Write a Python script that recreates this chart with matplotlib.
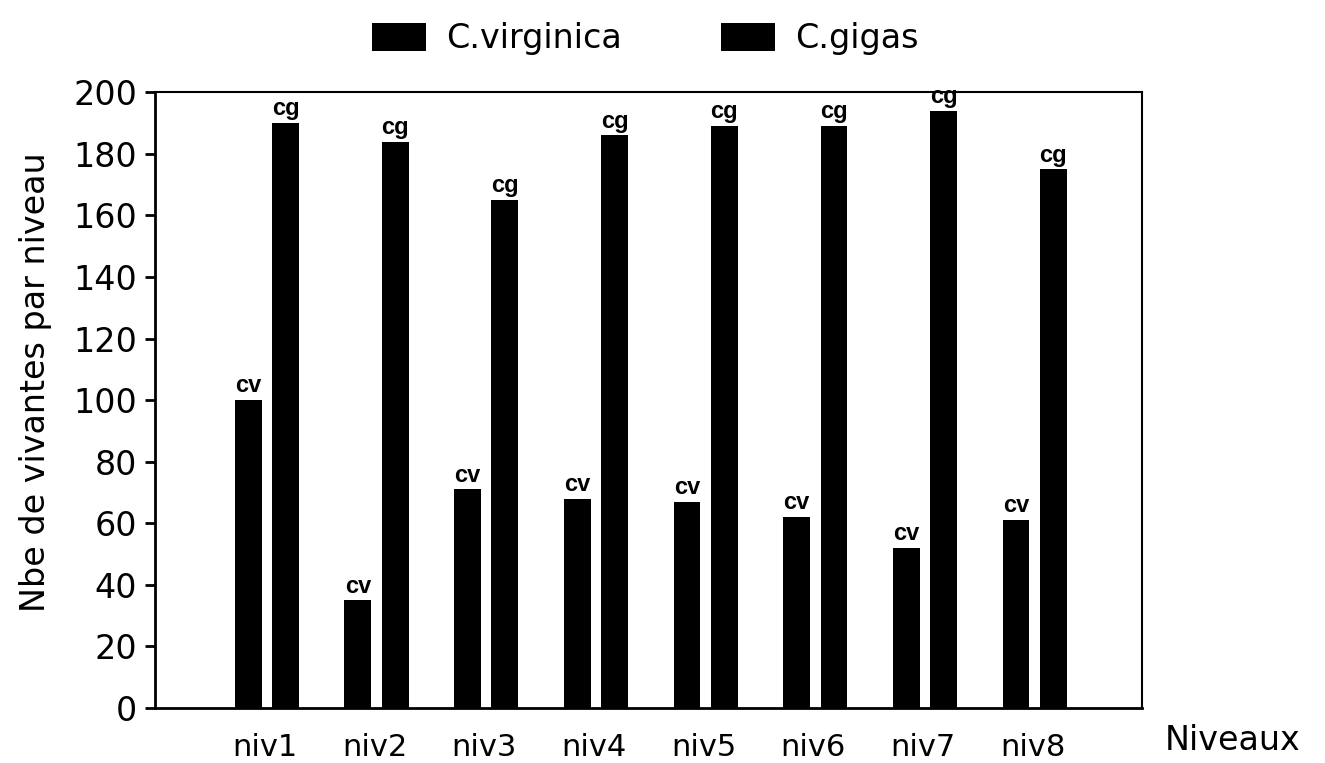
import numpy as np
import matplotlib
matplotlib.use('Agg')
from matplotlib import pyplot as plt

niveaux = ['niv1', 'niv2', 'niv3', 'niv4', 'niv5', 'niv6', 'niv7', 'niv8']
virginica = [100, 35, 71, 68, 67, 62, 52, 61]
gigas = [190, 184, 165, 186, 189, 189, 194, 175]
yticks = [0, 20, 40, 60, 80, 100, 120, 140, 160, 180, 200]

plt.rcParams['font.family'] = ['DejaVu Sans']

fig = plt.figure(figsize=(13.25, 7.63), dpi=100)
ax = fig.add_axes([0.117, 0.072, 0.745, 0.807])

x = np.arange(1, len(niveaux) + 1)
w = 0.245
b1 = ax.bar(x - 0.15, virginica, w, color='black', label='C.virginica')
b2 = ax.bar(x + 0.19, gigas, w, color='black', label='C.gigas')

# petites etiquettes au dessus des barres
for xi, v in zip(x, virginica):
    ax.annotate('cv', (xi - 0.15, v), xytext=(0, 2), textcoords='offset points',
                ha='center', va='bottom', fontsize=17, fontweight='bold',
                family='Liberation Sans')
for xi, v in zip(x, gigas):
    ax.annotate('cg', (xi + 0.19, v), xytext=(0, 2), textcoords='offset points',
                ha='center', va='bottom', fontsize=17, fontweight='bold',
                family='Liberation Sans')

ax.set_xlim(0, 9)
ax.set_ylim(0, 200)
ax.set_yticks(yticks)
ax.set_xticks(x)
ax.set_xticklabels(niveaux, fontsize=22)
ax.tick_params(axis='x', length=0, pad=18)
ax.tick_params(axis='y', labelsize=24, length=7, width=2, direction='out', pad=6)

ax.spines['left'].set_linewidth(2)
ax.spines['bottom'].set_linewidth(2)
ax.spines['top'].set_linewidth(1.5)
ax.spines['right'].set_linewidth(1.5)

ax.set_ylabel('Nbe de vivantes par niveau', fontsize=24)
ax.yaxis.set_label_coords(-0.104, 0.53)
fig.text(0.93, 0.008, 'Niveaux', fontsize=24, ha='center', va='bottom')

fig.legend(handles=[b1, b2], loc='upper center', bbox_to_anchor=(0.487, 1.01),
           ncol=2, frameon=False, fontsize=24, handlelength=1.6,
           handleheight=0.9, columnspacing=3.0, handletextpad=0.6)

fig.savefig('out.png', dpi=100)
